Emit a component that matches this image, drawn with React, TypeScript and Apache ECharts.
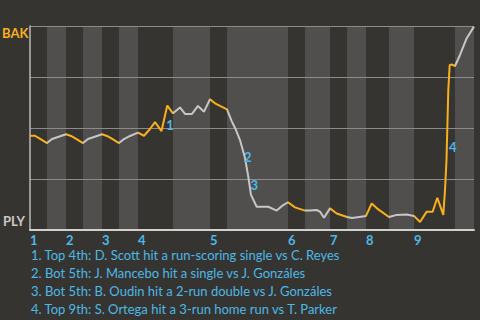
import React, { useEffect, useRef } from "react";
import * as echarts from "echarts";

// Game progress (arbitrary play-time units) and BAK win probability
const progress = [0, 5, 11, 17, 22, 28, 36, 41, 47, 53, 58, 64, 72, 77, 83, 89, 94, 100, 108, 114, 120, 125, 131.5, 137.3, 143, 150, 155, 162, 168, 174, 180, 185, 190, 197, 201.7, 206, 210, 215, 218.3, 221, 226.7, 238.3, 246.7, 252, 258, 265, 275, 280, 286.7, 290, 294, 300, 306.7, 317, 322, 336, 341.7, 348.3, 359, 366.7, 376.7, 384, 390, 396.7, 402.7, 407.3, 413.3, 415, 416.5, 418.3, 419.7, 422, 425, 430, 436.7, 444];
const bakWinProb = [0.462, 0.462, 0.444, 0.426, 0.446, 0.456, 0.469, 0.461, 0.444, 0.426, 0.446, 0.456, 0.469, 0.461, 0.444, 0.426, 0.446, 0.461, 0.477, 0.462, 0.495, 0.529, 0.485, 0.61, 0.572, 0.601, 0.569, 0.569, 0.608, 0.58, 0.641, 0.621, 0.608, 0.591, 0.534, 0.49, 0.441, 0.353, 0.261, 0.172, 0.114, 0.114, 0.095, 0.118, 0.136, 0.111, 0.095, 0.095, 0.098, 0.09, 0.06, 0.106, 0.081, 0.064, 0.059, 0.069, 0.13, 0.101, 0.064, 0.074, 0.076, 0.069, 0.039, 0.09, 0.09, 0.158, 0.074, 0.196, 0.343, 0.686, 0.809, 0.811, 0.804, 0.858, 0.94, 0.997];

// Half-inning boundaries (top, bottom, top, bottom, ...), last value = game end
const halfInningStarts = [0, 17, 36, 53, 72, 89, 108, 143, 180, 197, 258, 275, 300, 317, 336, 359, 384, 425, 444];
const innings = ["1", "2", "3", "4", "5", "6", "7", "8", "9"];

// Key plays
const noteLabels = ["1", "2", "3", "4"];
const noteX = [140, 217.7, 224.3, 422.7];
const noteY = [0.515, 0.359, 0.221, 0.405];
const noteTexts = [
  "1. Top 4th: D. Scott hit a run-scoring single vs C. Reyes",
  "2. Bot 5th: J. Mancebo hit a single vs J. Gonzáles",
  "3. Bot 5th: B. Oudin hit a 2-run double vs J. Gonzáles",
  "4. Top 9th: S. Ortega hit a 3-run home run vs T. Parker",
];

const awayTeam = "BAK";
const homeTeam = "PLY";

const ORANGE = "#f8b01c";
const GRAY = "#c6c6c6";
const BLUE = "#4db8e8";
const BG = "#363430";
const BAND = "#504f4d";
const FONT = "Lato";

export default function App() {
  const ref = useRef<HTMLDivElement>(null);
  useEffect(() => {
    if (!ref.current) return;
    const chart = echarts.init(ref.current, null, { renderer: "svg" });
    const data = progress.map((x, i) => [x, bakWinProb[i]]);
    const topStarts: number[] = [];
    const bands: any[] = [];
    const pieces: any[] = [];
    for (let i = 0; i < halfInningStarts.length - 1; i++) {
      const a = halfInningStarts[i];
      const b = halfInningStarts[i + 1];
      if (i % 2 === 0) {
        topStarts.push(a);
        pieces.push({ gte: a, lt: b, color: ORANGE });
      } else {
        bands.push([{ xAxis: a }, { xAxis: b }]);
        pieces.push({ gte: a, lt: b, color: GRAY });
      }
    }
    pieces[pieces.length - 1] = { gte: halfInningStarts[halfInningStarts.length - 2], lte: 1000, color: GRAY };

    chart.setOption({
      animation: false,
      backgroundColor: BG,
      textStyle: { fontFamily: FONT },
      grid: { left: 30, right: 6, top: 26, bottom: 90 },
      xAxis: {
        type: "value",
        min: 0,
        max: halfInningStarts[halfInningStarts.length - 1],
        z: 2,
        axisLine: { show: true, lineStyle: { color: "#d0d0d0", width: 2 } },
        axisTick: { show: false },
        splitLine: { show: false },
        axisLabel: {
          customValues: topStarts,
          align: "left",
          margin: 3,
          color: BLUE,
          fontWeight: "bold",
          fontSize: 13,
          fontFamily: FONT,
          formatter: (v: number) => {
            const idx = topStarts.indexOf(v);
            return idx >= 0 ? innings[idx] : "";
          },
        },
      },
      yAxis: {
        type: "value",
        min: 0,
        max: 1,
        interval: 0.25,
        z: 2,
        axisLine: { show: true, lineStyle: { color: "#b8b8b8", width: 1.5 } },
        axisTick: { show: false },
        axisLabel: { show: false },
        splitLine: { lineStyle: { color: "#8c8b89", width: 1 } },
      },
      visualMap: {
        show: false,
        type: "piecewise",
        dimension: 0,
        seriesIndex: 1,
        pieces,
      },
      series: [
        {
          type: "line",
          z: 1,
          data: [[0, 0]],
          symbol: "none",
          lineStyle: { opacity: 0 },
          silent: true,
          markArea: {
            silent: true,
            itemStyle: { color: BAND },
            data: bands,
          },
        },
        {
          type: "line",
          z: 3,
          data,
          symbol: "none",
          lineStyle: { width: 2 },
          markPoint: {
            symbol: "circle",
            symbolSize: 0,
            label: {
              show: true,
              position: "inside",
              color: BLUE,
              fontWeight: "bold",
              fontSize: 13,
              fontFamily: FONT,
              formatter: (p: any) => p.name,
            },
            data: noteLabels.map((n, i) => ({ name: n, coord: [noteX[i], noteY[i]] })),
          },
        },
      ],
      graphic: [
        {
          type: "text",
          x: 2,
          y: 33,
          style: { text: awayTeam, fill: ORANGE, font: `bold 13px ${FONT}`, verticalAlign: "middle" },
        },
        {
          type: "text",
          x: 3,
          y: 221,
          style: { text: homeTeam, fill: "#c8c8c8", font: `bold 13px ${FONT}`, verticalAlign: "middle" },
        },
        ...noteTexts.map((t, i) => ({
          type: "text",
          x: 31,
          y: 255 + i * 18,
          style: { text: t, fill: BLUE, font: `13px ${FONT}`, verticalAlign: "middle" },
        })),
      ],
    });
    return () => chart.dispose();
  }, []);
  return <div ref={ref} style={{ width: 480, height: 320, position: "absolute", left: 0, top: 0 }} />;
}
